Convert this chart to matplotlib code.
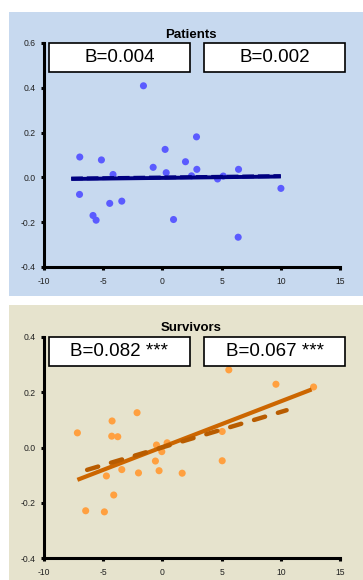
import matplotlib
matplotlib.use("Agg")
import matplotlib.pyplot as plt
from matplotlib.patches import Rectangle

plt.rcParams['font.family'] = ['Liberation Sans', 'DejaVu Sans']

# ---------------- data ----------------
pat_x = [-6.98, -7.0, -5.15, -4.17, -5.86, -5.60, -4.45, -3.43, -1.60, -0.78, 0.23,
         0.32, 0.94, 1.95, 2.46, 2.88, 2.91, 4.66, 5.14, 6.43, 6.40, 10.01]
pat_y = [0.091, -0.076, 0.078, 0.013, -0.170, -0.191, -0.116, -0.106, 0.409, 0.045, 0.125,
         0.021, -0.188, 0.070, 0.007, 0.181, 0.036, -0.007, 0.006, 0.036, -0.267, -0.049]
pat_fit_x = [-7.7, 10.0]
pat_fit_solid = [-0.007, 0.004]
pat_fit_dashed = [-0.005, 0.006]
pat_labels = ["B=0.004", "B=0.002"]

surv_x = [-7.18, -6.48, -4.90, -4.73, -4.25, -4.28, -3.77, -4.11, -3.43, -2.14, -2.02,
          -0.50, -0.59, -0.28, -0.05, 0.40, 1.67, 5.05, 5.05, 5.61, 9.59, 12.77]
surv_y = [0.053, -0.229, -0.233, -0.103, 0.096, 0.041, 0.039, -0.172, -0.080, 0.126, -0.092,
          0.009, -0.049, -0.084, -0.015, 0.017, -0.093, 0.058, -0.048, 0.281, 0.229, 0.219]
surv_fit_solid_x = [-7.18, 12.6]
surv_fit_solid_y = [-0.117, 0.210]
surv_fit_dashed_x = [-6.36, 10.49]
surv_fit_dashed_y = [-0.081, 0.135]
surv_labels = ["B=0.082 ***", "B=0.067 ***"]

xticks = [-10, -5, 0, 5, 10, 15]
pat_yticks = [-0.4, -0.2, 0.0, 0.2, 0.4, 0.6]
surv_yticks = [-0.4, -0.2, 0.0, 0.2, 0.4]

W, H = 363, 580
fig = plt.figure(figsize=(W / 100, H / 100), dpi=100)

def fx(px):
    return px / W

def fy(py):
    return 1 - py / H

# panel backgrounds
fig.patches.append(Rectangle((fx(9), fy(296)), 1 - fx(9), fy(12) - fy(296),
                             transform=fig.transFigure, facecolor='#c7d9ef',
                             edgecolor='none', zorder=-5))
fig.patches.append(Rectangle((fx(9), 0), 1 - fx(9), fy(305),
                             transform=fig.transFigure, facecolor='#e6e3cd',
                             edgecolor='none', zorder=-5))


def style_axes(ax, yticks, ylim):
    ax.set_facecolor('none')
    ax.set_xlim(-10, 15)
    ax.set_ylim(*ylim)
    ax.set_xticks(xticks)
    ax.set_xticklabels([str(t) for t in xticks])
    ax.set_yticks(yticks)
    ax.set_yticklabels([f"{t:.1f}" for t in yticks])
    for s in ['top', 'right']:
        ax.spines[s].set_visible(False)
    for s in ['left', 'bottom']:
        ax.spines[s].set_linewidth(2.2)
        ax.spines[s].set_color('black')
        ax.spines[s].set_capstyle('projecting')
    ax.tick_params(axis='both', direction='out', length=2.0, width=2.2,
                   labelsize=6.2, labelcolor='#222222', color='black')
    ax.tick_params(axis='x', pad=5)
    ax.tick_params(axis='y', pad=4)


def add_boxes(y_top, y_bot, labels, fsz):
    for (x0, x1), lab in zip([(49, 190), (204, 345)], labels):
        fig.patches.append(Rectangle((fx(x0), fy(y_bot)), fx(x1) - fx(x0), fy(y_top) - fy(y_bot),
                                     transform=fig.transFigure, facecolor='white',
                                     edgecolor='black', linewidth=1.2, zorder=5))
        fig.text(fx((x0 + x1) / 2), fy((y_top + y_bot) / 2), lab, ha='center', va='center',
                 fontsize=fsz, color='black', zorder=6)


# ---------------- top panel ----------------
ax1 = fig.add_axes([fx(44), fy(267), fx(340) - fx(44), fy(43) - fy(267)])
style_axes(ax1, pat_yticks, (-0.4, 0.6))
ax1.scatter(pat_x, pat_y, s=26, color='#5b5bff', edgecolors='none', zorder=2)
ax1.plot(pat_fit_x, pat_fit_solid, color='#000080', lw=2.8, zorder=3, solid_capstyle='butt')
ax1.plot(pat_fit_x, pat_fit_dashed, color='#000080', lw=2.8, zorder=3,
         dashes=(3, 1), dash_capstyle='butt')
fig.text(fx(191), fy(35), "Patients", ha='center', va='center', fontsize=9.5,
         fontweight='bold', color='black')
add_boxes(43, 72, pat_labels, 13.5)

# ---------------- bottom panel ----------------
ax2 = fig.add_axes([fx(44), fy(558), fx(340) - fx(44), fy(337) - fy(558)])
style_axes(ax2, surv_yticks, (-0.4, 0.4))
ax2.scatter(surv_x, surv_y, s=26, color='#ffa040', edgecolors='none', zorder=2)
ax2.plot(surv_fit_solid_x, surv_fit_solid_y, color='#cc6600', lw=3.0, zorder=3,
         solid_capstyle='butt')
ax2.plot(surv_fit_dashed_x, surv_fit_dashed_y, color='#b85c00', lw=3.2, zorder=3,
         dashes=(2.6, 3.0), dash_capstyle='round')
fig.text(fx(191), fy(328), "Survivors", ha='center', va='center', fontsize=9.5,
         fontweight='bold', color='black')
add_boxes(337, 366, surv_labels, 13.5)

fig.savefig("out.png", dpi=100)
